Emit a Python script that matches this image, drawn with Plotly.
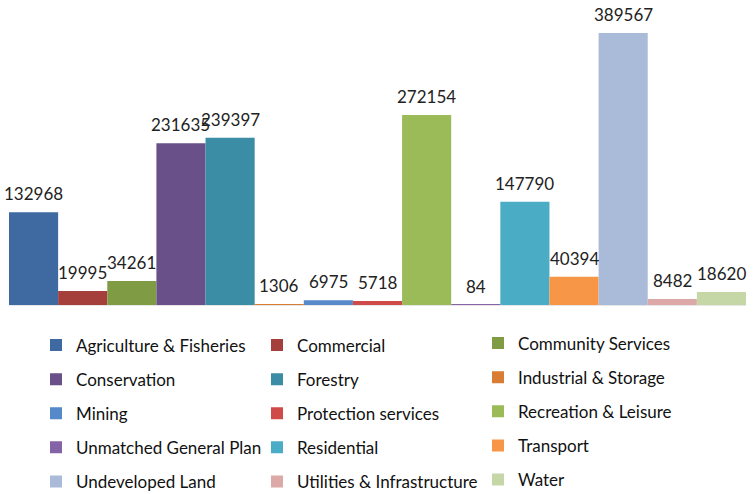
import plotly.graph_objects as go

# Land-use categories, their areas and bar colours
categories = [
    "Agriculture & Fisheries", "Commercial", "Community Services",
    "Conservation", "Forestry", "Industrial & Storage",
    "Mining", "Protection services", "Recreation & Leisure",
    "Unmatched General Plan", "Residential", "Transport",
    "Undeveloped Land", "Utilities & Infrastructure", "Water",
]
areas = [132968, 19995, 34261, 231635, 239397, 1306, 6975, 5718,
         272154, 84, 147790, 40394, 389567, 8482, 18620]
colors = [
    "#3E69A1", "#A53F3C", "#7F9C45",
    "#6A5088", "#3A8DA5", "#D97D35",
    "#5589C9", "#CE4B49", "#9BBB59",
    "#8464A6", "#4BACC6", "#F79646",
    "#AABBD9", "#DDA8A8", "#C5D7A7",
]

FONT = "Lato"
fig = go.Figure()

# Legend is laid out row by row across three columns
legend_ids = ["legend", "legend2", "legend3"]
for i, (name, val, col) in enumerate(zip(categories, areas, colors)):
    fig.add_trace(go.Bar(
        x=[i], y=[val], width=1, name=name,
        marker=dict(color=col, line=dict(width=0)),
        legend=legend_ids[i % 3], legendgroup=name,
        showlegend=True,
    ))
    fig.add_annotation(
        x=i, y=val, text=str(val), showarrow=False,
        yanchor="bottom", yshift=6,
        font=dict(family=FONT, size=17, color="#222222"),
    )

legend_common = dict(
    font=dict(family=FONT, size=17, color="#111111"),
    bgcolor="rgba(0,0,0,0)", tracegroupgap=9,
    xref="container", yref="container",
    yanchor="top", xanchor="left", traceorder="grouped",
)
fig.update_layout(
    width=753, height=494,
    margin=dict(l=9, r=7, t=0, b=189, autoexpand=False),
    paper_bgcolor="white", plot_bgcolor="white",
    barmode="overlay", showlegend=True,
    xaxis=dict(range=[-0.5, 14.5], showticklabels=False, showgrid=False,
               zeroline=False, showline=True, linecolor="#E6E6E6",
               linewidth=1, ticks=""),
    yaxis=dict(range=[0, 436800], showticklabels=False, showgrid=False,
               zeroline=False, showline=False, ticks=""),
    legend=dict(x=36 / 753, y=0.337, **legend_common),
    legend2=dict(x=257 / 753, y=0.337, **legend_common),
    legend3=dict(x=478 / 753, y=0.341, **legend_common),
)

fig.write_html("out.html")
